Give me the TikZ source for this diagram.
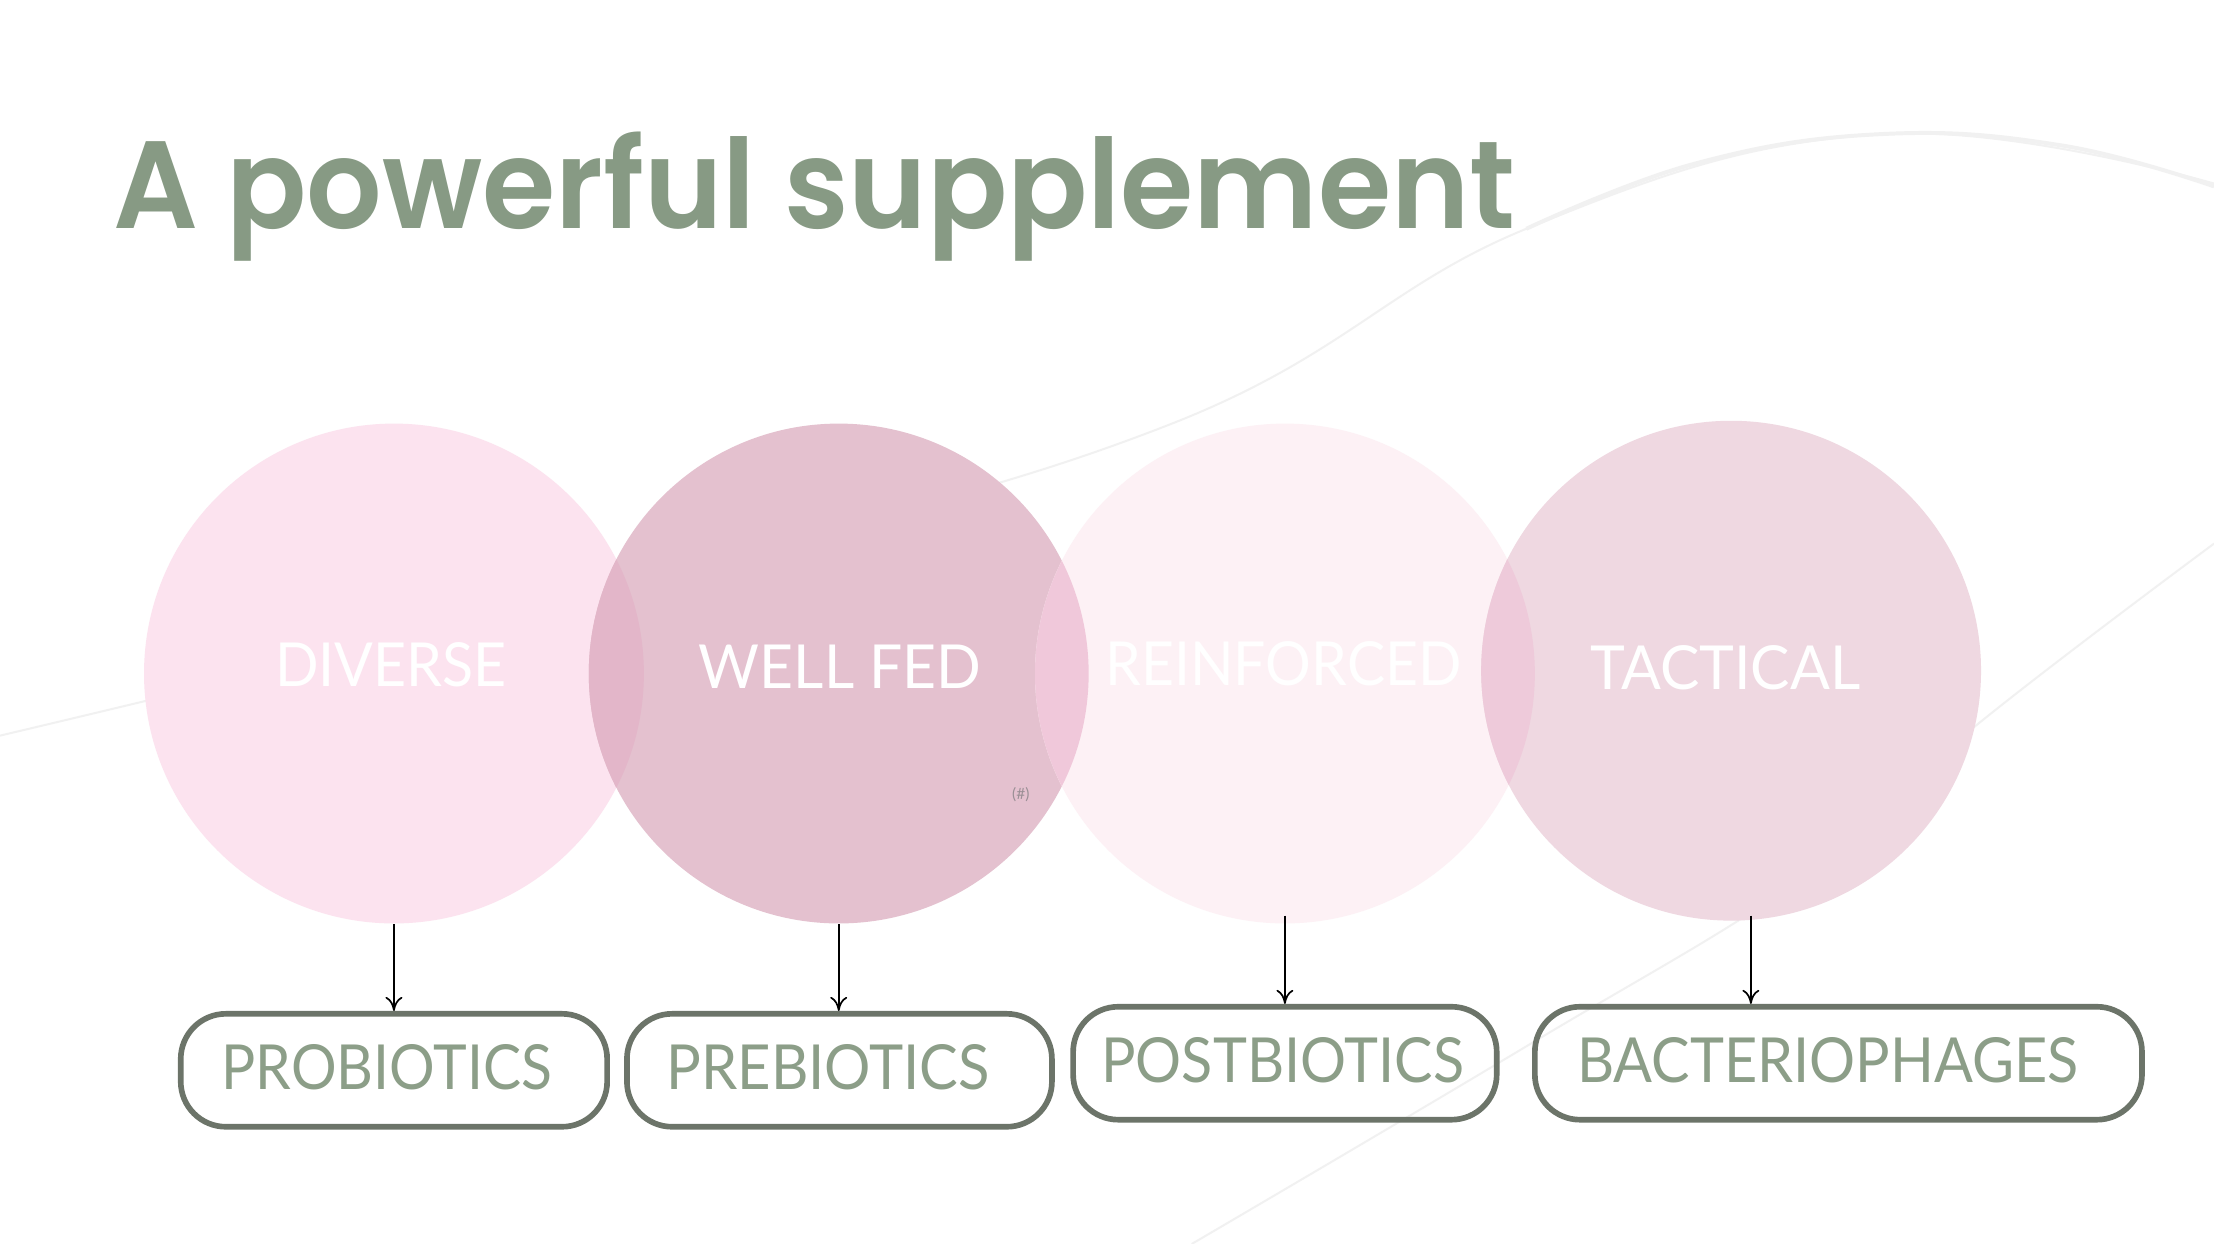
\documentclass[tikz,border=0pt]{standalone}
\usepackage{fontspec}
\usepackage{graphicx}
\setmainfont{Lato}
\newfontfamily\lightfont{Lato}
\IfFontExistsTF{Poppins SemiBold}{\newfontfamily\titlefont{Poppins SemiBold}}{\newfontfamily\titlefont{Poppins}[UprightFont=*-Bold]}
\usetikzlibrary{arrows.meta}
\definecolor{titlecol}{HTML}{879A84}
\definecolor{boxtext}{HTML}{8C9E88}
\definecolor{boxborder}{HTML}{6C7469}
\definecolor{cA}{HTML}{FCE3EF}
\definecolor{cB}{HTML}{E4C1CF}
\definecolor{cC}{HTML}{FDF1F5}
\definecolor{cD}{HTML}{EFD8E1}
\definecolor{lensAB}{HTML}{E3B6C9}
\definecolor{lensBC}{HTML}{F0C8DA}
\definecolor{lensCD}{HTML}{EECADA}
\definecolor{bgl}{HTML}{F1F1F1}
\definecolor{hashcol}{HTML}{9A8F95}
\begin{document}
\begin{tikzpicture}[x=0.5pt,y=-0.5pt,
  bubble/.style={circle, minimum size=177pt, inner sep=0pt, text=white,
    font=\lightfont\fontsize{21.5}{24}\selectfont},
  bubbletext/.style={inner sep=0pt, text=white,
    font=\lightfont\fontsize{21.5}{24}\selectfont},
  pill/.style={draw=boxborder, line width=2pt, rounded corners=16pt,
    minimum height=40pt, inner sep=0pt},
  pilltext/.style={inner sep=0pt, text=boxtext,
    font=\lightfont\fontsize{22}{26}\selectfont},
  link/.style={-{To[length=5pt,width=6pt]}, line width=0.6pt, black},
  bgline/.style={line width=0.7pt, draw=bgl}]
\useasboundingbox (0,0) rectangle (1568,881);
\fill[white] (0,0) rectangle (1568,881);
% faint background curves
\draw[bgline] plot[smooth, tension=0.7] coordinates {(0,521) (450,410) (830,300) (1081,162) (1332,95) (1568,130)};
\draw[bgline, line width=1.4pt] plot[smooth, tension=0.7] coordinates {(1081,162) (1200,116) (1332,95) (1460,103) (1568,132)};
\draw[bgline] plot[smooth, tension=0.7] coordinates {(844,881) (1081,741) (1282,618) (1398,515) (1568,385)};
% title
\node[anchor=base west, text=titlecol, inner sep=0pt,
  font=\titlefont\fontsize{44}{50}\selectfont] (title) at (80,162)
  {\resizebox{496.5pt}{\height}{A powerful supplement}};
% circles
\node[bubble, fill=cA] (c1) at (279,477) {};
\node[bubble, fill=cB] (c2) at (594,477) {};
\node[bubble, fill=cC] (c3) at (910,477) {};
\node[bubble, fill=cD] (c4) at (1226,475) {};
% overlaps
\begin{scope}
  \clip (c1.center) circle[radius=88.5pt];
  \fill[lensAB] (c2.center) circle[radius=88.5pt];
\end{scope}
\begin{scope}
  \clip (c2.center) circle[radius=88.5pt];
  \fill[lensBC] (c3.center) circle[radius=88.5pt];
\end{scope}
\begin{scope}
  \clip (c3.center) circle[radius=88.5pt];
  \fill[lensCD] (c4.center) circle[radius=88.5pt];
\end{scope}
% circle labels
\node[bubbletext] (t1) at (277,471) {\resizebox{82pt}{\height}{DIVERSE}};
\node[bubbletext] (t2) at (595,472) {\resizebox{100pt}{\height}{WELL FED}};
\node[bubbletext] (t3) at (909,470) {\resizebox{126pt}{\height}{REINFORCED}};
\node[bubbletext] (t4) at (1222,473) {\resizebox{95.5pt}{\height}{TACTICAL}};
\node[font=\lightfont\fontsize{5.5}{6}\selectfont, text=hashcol] (hash) at (723,563) {(\#)};
% boxes
\node[pill, minimum width=151pt] (b1) at (279,758) {};
\node[pill, minimum width=150.5pt] (b2) at (594.5,758) {};
\node[pill, minimum width=150pt] (b3) at (910,753) {};
\node[pill, minimum width=215pt] (b4) at (1302,753) {};
\node[pilltext] (p1) at (274,756) {\resizebox{117pt}{\height}{PROBIOTICS}};
\node[pilltext] (p2) at (586.5,756) {\resizebox{114.5pt}{\height}{PREBIOTICS}};
\node[pilltext] (p3) at (908.5,751) {\resizebox{128.5pt}{\height}{POSTBIOTICS}};
\node[pilltext] (p4) at (1294.5,751) {\resizebox{177.5pt}{\height}{BACTERIOPHAGES}};
% arrows
\draw[link] (c1.south) -- (b1.north);
\draw[link] (c2.south) -- (c2.south |- b2.north);
\draw[link] ([yshift=3pt]c3.south) -- (b3.north);
\draw[link] ([xshift=7pt,yshift=2pt]c4.south) -- ([xshift=7pt]c4.south |- b4.north);
\end{tikzpicture}
\end{document}
